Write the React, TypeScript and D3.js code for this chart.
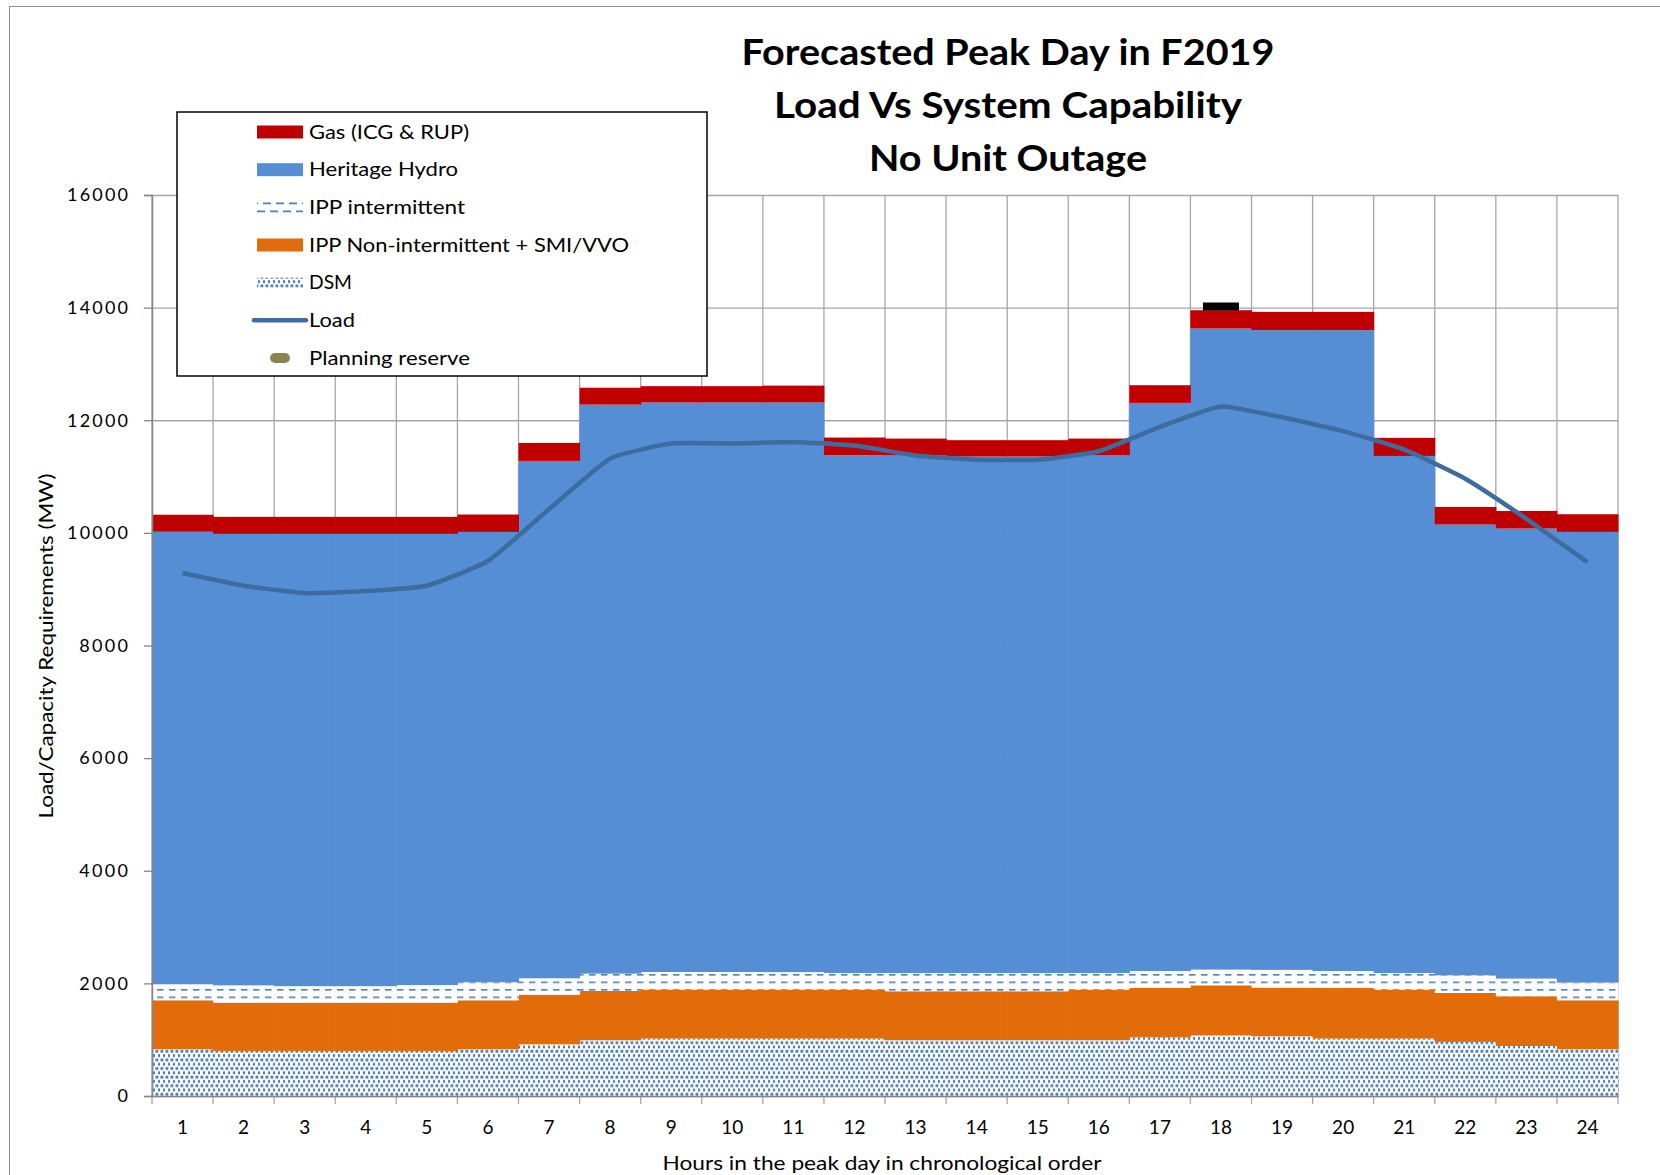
import * as d3 from "d3";
import { useEffect, useRef } from "react";

// hours of the peak day
const hours = d3.range(1, 25).map(String);

// stacked capability (MW), bottom to top
const dsm = [829, 800, 800, 800, 800, 829, 918, 990, 1019, 1019, 1019, 1019, 990, 990, 990, 990, 1040, 1078, 1060, 1019, 1019, 960, 888, 829];
const ippNonInt = [871, 859, 859, 859, 859, 871, 882, 875, 871, 871, 871, 871, 870, 870, 870, 900, 882, 888, 865, 899, 871, 870, 883, 871];
const ippInt = [285, 306, 291, 291, 311, 320, 290, 308, 312, 312, 310, 295, 325, 325, 325, 295, 298, 279, 315, 302, 295, 314, 314, 314];
const hydro = [8035, 8018, 8033, 8033, 8013, 7997, 9188, 10105, 10113, 10113, 10115, 9194, 9190, 9171, 9171, 9190, 10088, 11384, 11360, 11380, 9181, 8004, 7992, 8003];
const gas = [302, 302, 302, 302, 302, 309, 320, 300, 290, 290, 300, 314, 300, 290, 290, 300, 314, 325, 324, 324, 321, 313, 313, 314];

// forecast load (MW)
const load = [9287, 9061, 8930, 8967, 9061, 9500, 10420, 11320, 11587, 11587, 11615, 11550, 11375, 11299, 11299, 11450, 11882, 12245, 12052, 11807, 11480, 10961, 10250, 9480];

// planning reserve marker (only shown at hour 18)
const planningReserve: (number | null)[] = hours.map((h) => (h === "18" ? 14020 : null));

const yTicks = [0, 2000, 4000, 6000, 8000, 10000, 12000, 14000, 16000];

const titleLines = ["Forecasted Peak Day in F2019", "Load Vs System Capability", "No Unit Outage"];

const keys = ["dsm", "ippNonInt", "ippInt", "hydro", "gas"];
const fills: Record<string, string> = {
  dsm: "url(#dsmPat)",
  ippNonInt: "#e36c0a",
  ippInt: "url(#intPat)",
  hydro: "#558ed5",
  gas: "#c00000",
};

const legendItems = [
  { label: "Gas (ICG & RUP)", kind: "rect", fill: "#c00000", w: 160 },
  { label: "Heritage Hydro", kind: "rect", fill: "#558ed5", w: 149 },
  { label: "IPP intermittent", kind: "int", fill: "url(#intPat)", w: 156 },
  { label: "IPP Non-intermittent + SMI/VVO", kind: "rect", fill: "#e36c0a", w: 320 },
  { label: "DSM", kind: "dsm", fill: "url(#dsmPat)", w: 43 },
  { label: "Load", kind: "line", fill: "#3f6c9e", w: 46 },
  { label: "Planning reserve", kind: "dot", fill: "#8c8552", w: 161 },
];

export default function App() {
  const svgRef = useRef<SVGSVGElement>(null);

  useEffect(() => {
    const W = 1660;
    const H = 1175;
    const left = 152;
    const right = 1618;
    const top = 195;
    const bottom = 1096;
    const font = "Lato, 'Open Sans', sans-serif";

    const svg = d3.select(svgRef.current).attr("width", W).attr("height", H);
    svg.selectAll("*").remove();

    // patterns
    const defs = svg.append("defs");
    const dp = defs
      .append("pattern")
      .attr("id", "dsmPat")
      .attr("patternUnits", "userSpaceOnUse")
      .attr("width", 5)
      .attr("height", 8.6);
    dp.append("rect").attr("width", 5).attr("height", 8.6).attr("fill", "#fff");
    [[0.5, 0.7], [3.0, 5.0]].forEach(([a, b]) =>
      dp.append("rect").attr("x", a).attr("y", b).attr("width", 2.8).attr("height", 2.8).attr("fill", "#4679b8")
    );
    const ip = defs
      .append("pattern")
      .attr("id", "intPat")
      .attr("patternUnits", "userSpaceOnUse")
      .attr("y", 974)
      .attr("width", 12)
      .attr("height", 7.5);
    ip.append("rect").attr("width", 12).attr("height", 7.5).attr("fill", "#fff");
    ip.append("rect").attr("x", 1).attr("y", 0).attr("width", 6.5).attr("height", 1.6).attr("fill", "#4f81bd");

    // outer frame
    svg
      .append("rect")
      .attr("x", 9.5)
      .attr("y", 6.5)
      .attr("width", W)
      .attr("height", H + 50)
      .attr("fill", "none")
      .attr("stroke", "#8c8c8c");

    const x = d3.scaleBand<string>().domain(hours).range([left, right]).paddingInner(0).paddingOuter(0);
    const y = d3.scaleLinear().domain([0, 16000]).range([bottom, top]);

    // horizontal gridlines
    svg
      .append("g")
      .attr("transform", `translate(${left},0)`)
      .call(
        d3
          .axisLeft(y)
          .tickValues(yTicks)
          .tickSize(-(right - left))
          .tickFormat(() => "") as any
      )
      .call((g) => g.select(".domain").remove())
      .call((g) => g.selectAll("line").attr("stroke", "#a6a6a6").attr("stroke-width", 1.3));

    // vertical gridlines at category boundaries
    const bounds = hours.map((h) => x(h)!).concat([right]);
    svg
      .append("g")
      .selectAll("line")
      .data(bounds)
      .join("line")
      .attr("x1", (d) => d)
      .attr("x2", (d) => d)
      .attr("y1", top)
      .attr("y2", bottom + 8)
      .attr("stroke", "#a6a6a6")
      .attr("stroke-width", 1.3);

    // stacked bars
    const rows = hours.map((h, i) => ({
      hour: h,
      dsm: dsm[i],
      ippNonInt: ippNonInt[i],
      ippInt: ippInt[i],
      hydro: hydro[i],
      gas: gas[i],
    }));
    const series = d3.stack<any>().keys(keys)(rows);
    svg
      .append("g")
      .selectAll("g")
      .data(series)
      .join("g")
      .attr("fill", (s) => fills[s.key])
      .selectAll("rect")
      .data((s) => s)
      .join("rect")
      .attr("x", (d) => x(d.data.hour)!)
      .attr("width", x.bandwidth() + 0.5)
      .attr("y", (d) => y(d[1]))
      .attr("height", (d) => y(d[0]) - y(d[1]));

    // y axis
    svg
      .append("g")
      .attr("transform", `translate(${left},0)`)
      .call(d3.axisLeft(y).tickValues(yTicks).tickSize(8).tickPadding(16).tickFormat(d3.format("d")) as any)
      .call((g) => g.select(".domain").attr("stroke", "#868686").attr("stroke-width", 1.5))
      .call((g) => g.selectAll("line").attr("stroke", "#868686").attr("stroke-width", 1.3))
      .call((g) =>
        g
          .selectAll("text")
          .attr("fill", "#000")
          .attr("font-family", font)
          .attr("font-size", 18)
          .attr("textLength", (d: any) => String(d).length * 12.2)
          .attr("lengthAdjust", "spacing")
      );

    // x axis
    svg
      .append("g")
      .attr("transform", `translate(0,${bottom})`)
      .call(d3.axisBottom(x).tickSize(0).tickPadding(25) as any)
      .call((g) => g.select(".domain").attr("stroke", "#868686").attr("stroke-width", 1.5))
      .call((g) =>
        g
          .selectAll("text")
          .attr("fill", "#000")
          .attr("font-family", font)
          .attr("font-size", 19)
      );

    // load line
    const line = d3
      .line<number>()
      .x((_, i) => x(hours[i])! + x.bandwidth() / 2)
      .y((d) => y(d))
      .curve(d3.curveCardinal.tension(0.55));
    svg
      .append("path")
      .datum(load)
      .attr("d", line)
      .attr("fill", "none")
      .attr("stroke", "#3f6c9e")
      .attr("stroke-width", 4.5)
      .attr("stroke-linejoin", "round");

    // planning reserve marker
    svg
      .append("g")
      .selectAll("rect")
      .data(planningReserve.map((v, i) => ({ v, h: hours[i] })).filter((d) => d.v !== null))
      .join("rect")
      .attr("x", (d) => x(d.h)! + x.bandwidth() / 2 - 18)
      .attr("y", (d) => y(d.v as number) - 4)
      .attr("width", 36)
      .attr("height", 8)
      .attr("fill", "#000");

    // title
    svg
      .append("g")
      .selectAll("text")
      .data(titleLines)
      .join("text")
      .attr("x", 1008)
      .attr("y", (_, i) => 65 + i * 53)
      .attr("text-anchor", "middle")
      .attr("font-family", font)
      .attr("font-weight", "bold")
      .attr("font-size", 36)
      .attr("textLength", (_, i) => [533, 468, 278][i])
      .attr("lengthAdjust", "spacingAndGlyphs")
      .text((d) => d);

    // axis titles
    svg
      .append("text")
      .attr("transform", `translate(53,646) rotate(-90)`)
      .attr("text-anchor", "middle")
      .attr("font-family", font)
      .attr("font-size", 19)
      .attr("textLength", 345)
      .attr("lengthAdjust", "spacingAndGlyphs")
      .text("Load/Capacity Requirements (MW)");
    svg
      .append("text")
      .attr("x", 882)
      .attr("y", 1170)
      .attr("text-anchor", "middle")
      .attr("font-family", font)
      .attr("font-size", 19)
      .attr("textLength", 439)
      .attr("lengthAdjust", "spacingAndGlyphs")
      .text("Hours in the peak day in chronological order");

    // legend
    const lg = svg.append("g");
    lg.append("rect")
      .attr("x", 177)
      .attr("y", 112)
      .attr("width", 530)
      .attr("height", 264)
      .attr("fill", "#fff")
      .attr("stroke", "#000")
      .attr("stroke-width", 1.5);
    const rowY = d3.scalePoint<number>().domain(d3.range(legendItems.length)).range([132, 358]);
    legendItems.forEach((it, i) => {
      const cy = rowY(i)!;
      if (it.kind === "rect") {
        lg.append("rect").attr("x", 257).attr("y", cy - 6.5).attr("width", 46).attr("height", 13).attr("fill", it.fill);
      } else if (it.kind === "int") {
        [cy - 4, cy + 4].forEach((yy, k) =>
          lg
            .append("line")
            .attr("x1", 257)
            .attr("x2", 303)
            .attr("y1", yy)
            .attr("y2", yy)
            .attr("stroke", "#4f81bd")
            .attr("stroke-width", 1.6)
            .attr("stroke-dasharray", "8,5")
            .attr("stroke-dashoffset", k === 0 ? -6 : 0)
        );
      } else if (it.kind === "dsm") {
        lg.append("rect").attr("x", 257).attr("y", cy - 5).attr("width", 46).attr("height", 10).attr("fill", it.fill);
      } else if (it.kind === "line") {
        lg.append("line")
          .attr("x1", 254)
          .attr("x2", 306)
          .attr("y1", cy)
          .attr("y2", cy)
          .attr("stroke", it.fill)
          .attr("stroke-width", 4.5)
          .attr("stroke-linecap", "round");
      } else {
        lg.append("rect")
          .attr("x", 270)
          .attr("y", cy - 5)
          .attr("width", 20)
          .attr("height", 10)
          .attr("rx", 5)
          .attr("fill", it.fill);
      }
      lg.append("text")
        .attr("x", 309)
        .attr("y", cy + 6.5)
        .attr("font-family", font)
        .attr("font-size", 19)
        .attr("textLength", it.w)
        .attr("lengthAdjust", "spacingAndGlyphs")
        .text(it.label);
    });
  }, []);

  return (
    <svg ref={svgRef} style={{ position: "absolute", left: 0, top: 0, background: "#fff" }}></svg>
  );
}
